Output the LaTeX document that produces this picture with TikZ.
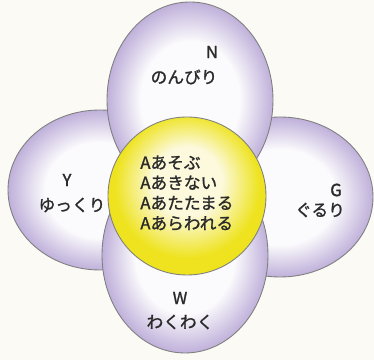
\documentclass[tikz,border=0pt]{standalone}
\usepackage{fontspec}
\newfontfamily\jpfont[FakeBold=1.3]{Noto Sans CJK JP}
\definecolor{paper}{HTML}{FBFAF4}
\definecolor{petalrim}{HTML}{BFB0DA}
\definecolor{petalmid}{HTML}{FBFAFC}
\definecolor{sunrim}{HTML}{EEE31E}
\definecolor{sunmid}{HTML}{FCF9DC}
\definecolor{ink}{HTML}{2A2A2A}
\pgfdeclareradialshading{petalfade}{\pgfpoint{0bp}{0bp}}{color(0bp)=(petalmid); color(15bp)=(petalmid); color(25bp)=(petalrim); color(50bp)=(petalrim)}
\pgfdeclareradialshading{sunfade}{\pgfpoint{0bp}{6bp}}{color(0bp)=(sunmid); color(11bp)=(sunmid); color(23bp)=(sunrim); color(50bp)=(sunrim)}
\begin{document}
\begin{tikzpicture}[x=0.2mm,y=0.2mm,
		petalshape/.style={shade,shading=petalfade,draw=gray,line width=.5pt},
		tag/.style={font=\jpfont\fontsize{9.5}{11.5}\selectfont,text=ink,inner sep=0pt}]
		\fill[paper] (0,0) rectangle (374,360);
		% bốn cánh
		\shade[petalshape] (100,170) ellipse (92 and 80);
		\shade[petalshape] (280,163) ellipse (93 and 80);
		\shade[petalshape] (190,260) ellipse (83 and 98);
		\shade[petalshape] (185,105) ellipse (83 and 98);
		% vòng giữa
		\shade[shading=sunfade,draw=gray,line width=.5pt] (187,164) circle (79);
			\node[tag] (nlet) at (212,308) {N};
			\node[tag] (nword) at (184,283) {のんびり};
			\node[tag] (ylet) at (67,180) {Y};
			\node[tag] (yword) at (72,155) {ゆっくり};
			\node[tag] (glet) at (336,170) {G};
			\node[tag] (gword) at (320,150) {ぐるり};
			\node[tag] (wlet) at (180,62) {W};
			\node[tag] (wword) at (180,38) {わくわく};
			\node[tag,align=left,anchor=west] (core) at (140,167) {Aあそぶ\\Aあきない\\Aあたたまる\\Aあらわれる};
\end{tikzpicture}
\end{document}
